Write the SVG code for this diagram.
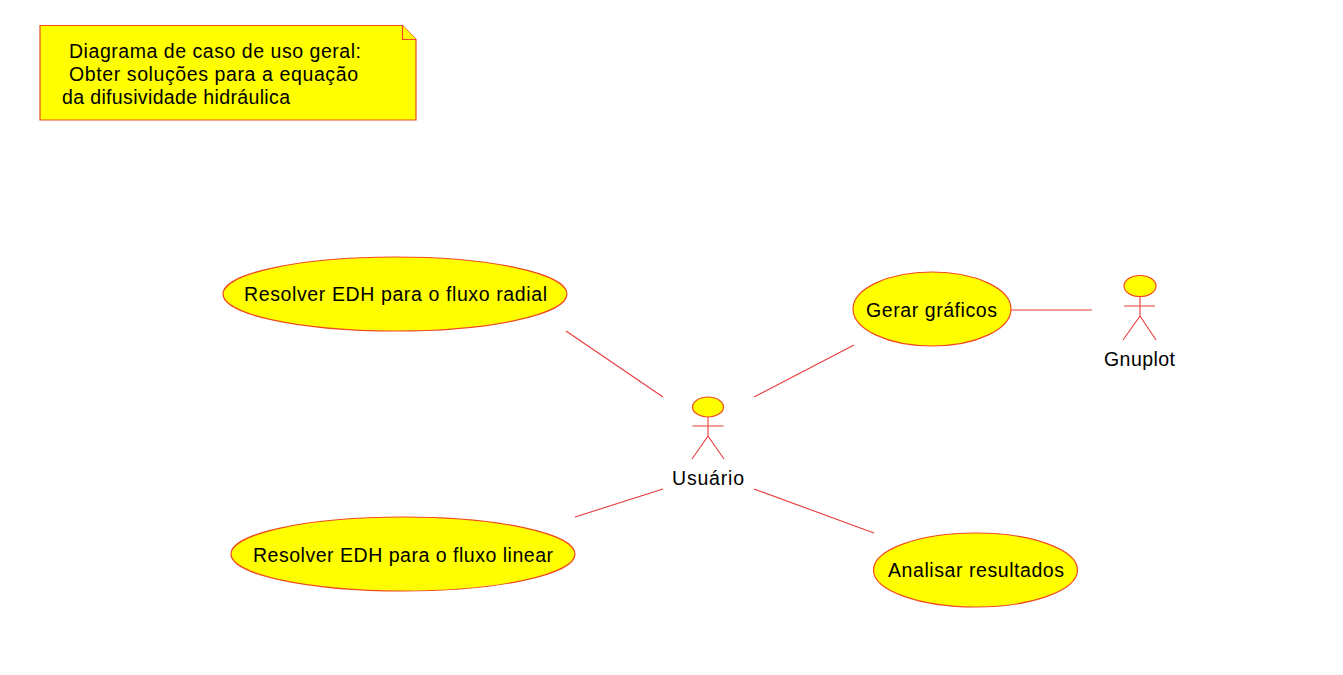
<svg xmlns="http://www.w3.org/2000/svg" width="1343" height="675" viewBox="0 0 1343 675">
<style>
.s{fill:#ffff00;stroke:#f04a20;stroke-width:1.200}
.l{fill:none;stroke:#e83a3a;stroke-width:1.100}
.t{font-family:"Liberation Sans",Arial,sans-serif;font-size:19.500px;fill:#000}
</style>
<rect width="1343" height="675" fill="#fff"/>
<g id="connectors">
<line class="l" x1="566" y1="331" x2="663" y2="397"/>
<line class="l" x1="575" y1="517" x2="663" y2="489"/>
<line class="l" x1="754" y1="397" x2="854" y2="345"/>
<line class="l" x1="754" y1="489" x2="874" y2="533"/>
<line class="l" x1="1011" y1="310" x2="1092" y2="310"/>
</g>
<g id="note">
<path class="s" d="M40 25.500H402.500L416 39.500V120H40Z"/>
<path class="s" d="M402.500 25.500V39.500H416"/>
<text class="t" x="69" y="57.500" textLength="292">Diagrama de caso de uso geral:</text>
<text class="t" x="69" y="80.500" textLength="289">Obter soluções para a equação</text>
<text class="t" x="62" y="103.500" textLength="228">da difusividade hidráulica</text>
</g>
<g id="uc-radial">
<ellipse class="s" cx="395" cy="294" rx="172" ry="37"/>
<text class="t" x="244" y="300.500" textLength="303">Resolver EDH para o fluxo radial</text>
</g>
<g id="uc-linear">
<ellipse class="s" cx="403" cy="554" rx="172" ry="37"/>
<text class="t" x="253" y="561.500" textLength="300">Resolver EDH para o fluxo linear</text>
</g>
<g id="uc-gerar">
<ellipse class="s" cx="932" cy="309" rx="79" ry="37"/>
<text class="t" x="866" y="316.500" textLength="131">Gerar gráficos</text>
</g>
<g id="uc-analisar">
<ellipse class="s" cx="975.500" cy="570" rx="102" ry="37"/>
<text class="t" x="888" y="576.500" textLength="176">Analisar resultados</text>
</g>
<g id="actor-usuario">
<ellipse class="s" cx="708" cy="407" rx="15.500" ry="10"/>
<path class="l" d="M708 417V436M692.500 426H723.500M708 436L692 459M708 436L724 459"/>
<text class="t" x="672" y="484.500" textLength="72">Usuário</text>
</g>
<g id="actor-gnuplot">
<ellipse class="s" cx="1140" cy="286" rx="16" ry="10.500"/>
<path class="l" d="M1140 296.500V316M1124 306H1155M1140 316L1123 340M1140 316L1156 340"/>
<text class="t" x="1104" y="365.500" textLength="71">Gnuplot</text>
</g>
</svg>
